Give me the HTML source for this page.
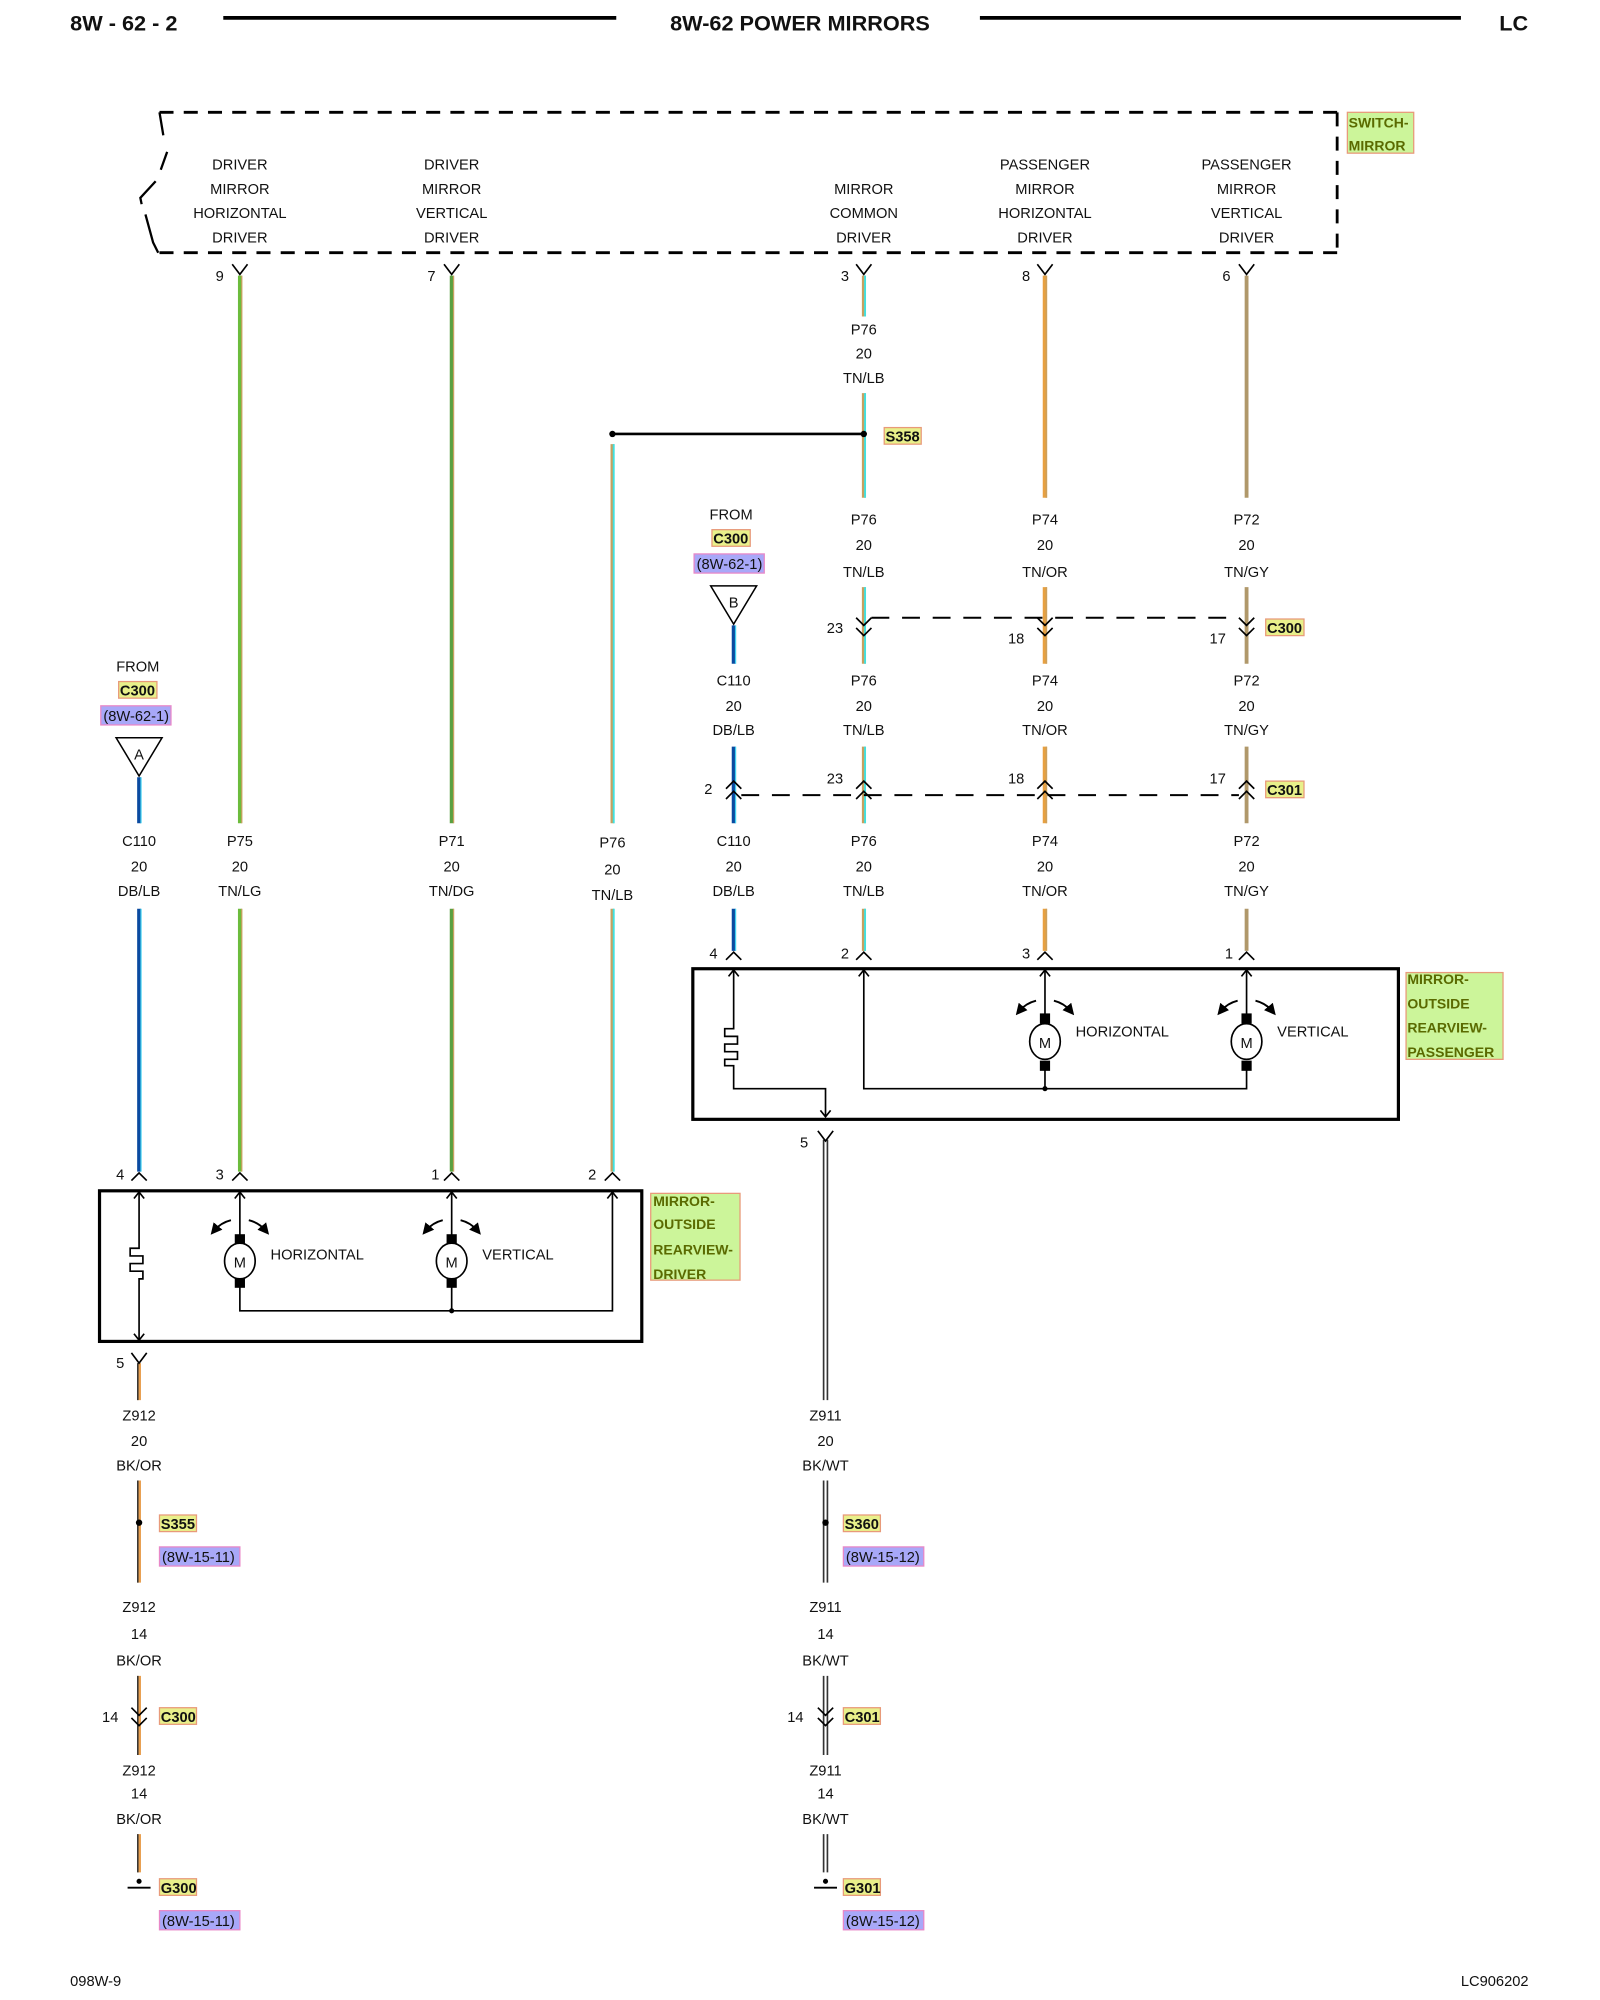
<!DOCTYPE html>
<html><head><meta charset="utf-8"><style>
html,body{margin:0;padding:0;background:#fff}
svg{display:block}
text{font-family:"Liberation Sans",sans-serif;font-size:11.5px;fill:#111}
.h{font-size:17px;font-weight:bold}
.c{text-anchor:middle}
.tg{font-weight:bold;font-size:11px;fill:#5a6a00}
.rf{font-size:11px;fill:#1a1a8a}
.ol{stroke:#000;stroke-width:1.3;fill:none}
</style></head><body>
<svg width="1600" height="2000" viewBox="0 0 1254 1567" preserveAspectRatio="none" xmlns="http://www.w3.org/2000/svg">
<defs>
<marker id="ah" markerWidth="6" markerHeight="6" refX="3" refY="3" orient="auto"><path d="M0,0 L6,3 L0,6 Z" fill="#000"/></marker>
</defs>
<!-- header -->
<text x="55" y="24" class="h">8W - 62 - 2</text>
<line x1="175" y1="14" x2="483" y2="14" stroke="#000" stroke-width="3"/>
<text x="627" y="24" class="h c">8W-62 POWER MIRRORS</text>
<line x1="768" y1="14" x2="1145" y2="14" stroke="#000" stroke-width="3"/>
<text x="1175" y="24" class="h">LC</text>

<!-- switch dashed box -->
<g stroke="#000" stroke-width="2.2" fill="none" stroke-dasharray="11 8">
<line x1="125" y1="88" x2="1048" y2="88"/>
<line x1="125" y1="198" x2="1048" y2="198"/>
<line x1="1048" y1="88" x2="1048" y2="198"/>
</g>
<path d="M125,88 L128,106 M131,119 L126,133 M122,142 L110,155 L111,160 M114,168 L120,190 L124,198" stroke="#000" stroke-width="1.8" fill="none"/>
<rect x="1056" y="88" width="52" height="32" fill="#ccf59a" stroke="#e89a7a"/>
<text x="1057" y="100" class="tg">SWITCH-</text><text x="1057" y="118" class="tg">MIRROR</text>

<g class="c">
<text x="188" y="133">DRIVER</text><text x="188" y="152">MIRROR</text><text x="188" y="171">HORIZONTAL</text><text x="188" y="190">DRIVER</text>
<text x="354" y="133">DRIVER</text><text x="354" y="152">MIRROR</text><text x="354" y="171">VERTICAL</text><text x="354" y="190">DRIVER</text>
<text x="677" y="152">MIRROR</text><text x="677" y="171">COMMON</text><text x="677" y="190">DRIVER</text>
<text x="819" y="133">PASSENGER</text><text x="819" y="152">MIRROR</text><text x="819" y="171">HORIZONTAL</text><text x="819" y="190">DRIVER</text>
<text x="977" y="133">PASSENGER</text><text x="977" y="152">MIRROR</text><text x="977" y="171">VERTICAL</text><text x="977" y="190">DRIVER</text>
</g>

<!-- wires -->
<g stroke-width="3" fill="none">
<path d="M188,216V645M188,712V918" stroke="#6cbc3c"/><path d="M189.5,216V645M189.5,712V918" stroke="#c8a060" stroke-width="1"/>
<path d="M354,216V645M354,712V918" stroke="#5aa040"/><path d="M355.5,216V645M355.5,712V918" stroke="#c8a060" stroke-width="1"/>
<path d="M677,216V248M677,308V390M677,460V520M677,585V645M677,712V745" stroke="#c8a060"/><path d="M678,216V248M678,308V390M678,460V520M678,585V645M678,712V745" stroke="#40e0e0" stroke-width="1.5"/>
<path d="M480,348V645M480,712V918" stroke="#c8a060"/><path d="M481,348V645M481,712V918" stroke="#40e0e0" stroke-width="1.5"/>
<path d="M819,216V390M819,460V520M819,585V645M819,712V745" stroke="#e8a040" stroke-width="3.5"/><path d="M820,216V390M820,460V520M820,585V645M820,712V745" stroke="#c8a060" stroke-width="1"/>
<path d="M977,216V390M977,460V520M977,585V645M977,712V745" stroke="#b0986a" stroke-width="3"/>
<path d="M575,490V520M575,585V645M575,712V745" stroke="#0a4aa0" stroke-width="3"/><path d="M576.5,490V520M576.5,585V645M576.5,712V745" stroke="#40d0f0" stroke-width="1"/>
<path d="M109,609V645M109,712V918" stroke="#0a4aa0" stroke-width="3"/><path d="M110.5,609V645M110.5,712V918" stroke="#40d0f0" stroke-width="1"/>
<path d="M109,1068V1097M109,1160V1240M109,1313V1375M109,1437V1467" stroke="#e8a050" stroke-width="3"/><path d="M108,1068V1097M108,1160V1240M108,1313V1375M108,1437V1467" stroke="#333" stroke-width="1.2"/>
<path d="M645.5,893V1097M645.5,1160V1240M645.5,1313V1375M645.5,1437V1467M648.5,893V1097M648.5,1160V1240M648.5,1313V1375M648.5,1437V1467" stroke="#333" stroke-width="1.3"/>
</g>

<g class="ol">
<path d="M182,207L188,215L194,207"/><path d="M348,207L354,215L360,207"/><path d="M671,207L677,215L683,207"/><path d="M813,207L819,215L825,207"/><path d="M971,207L977,215L983,207"/>
<path d="M671,484L677,490L683,484M671,492L677,498L683,492"/>
<path d="M813,484L819,490L825,484M813,492L819,498L825,492"/>
<path d="M971,484L977,490L983,484M971,492L977,498L983,492"/>
<path d="M569,618L575,612L581,618M569,626L575,620L581,626"/>
<path d="M671,618L677,612L683,618M671,626L677,620L683,626"/>
<path d="M813,618L819,612L825,618M813,626L819,620L825,626"/>
<path d="M971,618L977,612L983,618M971,626L977,620L983,626"/>
<path d="M569,752L575,746L581,752"/><path d="M671,752L677,746L683,752"/><path d="M813,752L819,746L825,752"/><path d="M971,752L977,746L983,752"/>
<path d="M103,925L109,919L115,925"/><path d="M182,925L188,919L194,925"/><path d="M348,925L354,919L360,925"/><path d="M474,925L480,919L486,925"/>
<path d="M103,1060L109,1068L115,1060"/><path d="M641,886L647,894L653,886"/>
<path d="M103,1338L109,1344L115,1338M103,1346L109,1352L115,1346"/>
<path d="M641,1338L647,1344L653,1338M641,1346L647,1352L653,1346"/>
</g>
<g stroke="#000" stroke-width="1.6" fill="none" stroke-dasharray="14 10">
<line x1="683" y1="484" x2="971" y2="484"/>
<line x1="581" y1="623" x2="971" y2="623"/>
</g>
<line x1="480" y1="340" x2="677" y2="340" stroke="#000" stroke-width="2"/>
<circle cx="480" cy="340" r="2.5"/><circle cx="677" cy="340" r="2.5"/>
<circle cx="109" cy="1193" r="2.5"/><circle cx="647" cy="1193" r="2.5"/>

<g>
<text x="169" y="220">9</text><text x="335" y="220">7</text><text x="659" y="220">3</text><text x="801" y="220">8</text><text x="958" y="220">6</text>
<text x="648" y="496">23</text><text x="790" y="504">18</text><text x="948" y="504">17</text>
<text x="552" y="622">2</text><text x="648" y="614">23</text><text x="790" y="614">18</text><text x="948" y="614">17</text>
<text x="556" y="751">4</text><text x="659" y="751">2</text><text x="801" y="751">3</text><text x="960" y="751">1</text>
<text x="91" y="924">4</text><text x="169" y="924">3</text><text x="338" y="924">1</text><text x="461" y="924">2</text>
<text x="91" y="1072">5</text><text x="627" y="899">5</text>
<text x="80" y="1349">14</text><text x="617" y="1349">14</text>
</g>

<g class="c">
<text x="677" y="262">P76</text><text x="677" y="281">20</text><text x="677" y="300">TN/LB</text>
<text x="677" y="411">P76</text><text x="677" y="431">20</text><text x="677" y="452">TN/LB</text>
<text x="819" y="411">P74</text><text x="819" y="431">20</text><text x="819" y="452">TN/OR</text>
<text x="977" y="411">P72</text><text x="977" y="431">20</text><text x="977" y="452">TN/GY</text>
<text x="573" y="407">FROM</text>
<text x="575" y="537">C110</text><text x="575" y="557">20</text><text x="575" y="576">DB/LB</text>
<text x="677" y="537">P76</text><text x="677" y="557">20</text><text x="677" y="576">TN/LB</text>
<text x="819" y="537">P74</text><text x="819" y="557">20</text><text x="819" y="576">TN/OR</text>
<text x="977" y="537">P72</text><text x="977" y="557">20</text><text x="977" y="576">TN/GY</text>
<text x="108" y="526">FROM</text>
<text x="109" y="663">C110</text><text x="109" y="683">20</text><text x="109" y="702">DB/LB</text>
<text x="188" y="663">P75</text><text x="188" y="683">20</text><text x="188" y="702">TN/LG</text>
<text x="354" y="663">P71</text><text x="354" y="683">20</text><text x="354" y="702">TN/DG</text>
<text x="480" y="664">P76</text><text x="480" y="685">20</text><text x="480" y="705">TN/LB</text>
<text x="575" y="663">C110</text><text x="575" y="683">20</text><text x="575" y="702">DB/LB</text>
<text x="677" y="663">P76</text><text x="677" y="683">20</text><text x="677" y="702">TN/LB</text>
<text x="819" y="663">P74</text><text x="819" y="683">20</text><text x="819" y="702">TN/OR</text>
<text x="977" y="663">P72</text><text x="977" y="683">20</text><text x="977" y="702">TN/GY</text>
<text x="109" y="1113">Z912</text><text x="109" y="1133">20</text><text x="109" y="1152">BK/OR</text>
<text x="109" y="1263">Z912</text><text x="109" y="1284">14</text><text x="109" y="1305">BK/OR</text>
<text x="109" y="1391">Z912</text><text x="109" y="1409">14</text><text x="109" y="1429">BK/OR</text>
<text x="647" y="1113">Z911</text><text x="647" y="1133">20</text><text x="647" y="1152">BK/WT</text>
<text x="647" y="1263">Z911</text><text x="647" y="1284">14</text><text x="647" y="1305">BK/WT</text>
<text x="647" y="1391">Z911</text><text x="647" y="1409">14</text><text x="647" y="1429">BK/WT</text>
</g>

<path d="M557,459H593L575,489Z" fill="#fff" stroke="#000" stroke-width="1.2"/><text x="575" y="476" class="c">B</text>
<path d="M91,578H127L109,608Z" fill="#fff" stroke="#000" stroke-width="1.2"/><text x="109" y="595" class="c">A</text>

<g fill="#e8f08a" stroke="#e89a7a">
<rect x="693" y="335" width="29" height="13"/>
<rect x="558" y="415" width="30" height="13"/>
<rect x="93" y="534" width="30" height="13"/>
<rect x="992" y="485" width="30" height="13"/>
<rect x="992" y="612" width="30" height="13"/>
<rect x="125" y="1187" width="29" height="13"/>
<rect x="661" y="1187" width="29" height="13"/>
<rect x="125" y="1338" width="29" height="13"/>
<rect x="661" y="1338" width="29" height="13"/>
<rect x="125" y="1472" width="29" height="13"/>
<rect x="661" y="1472" width="29" height="13"/>
</g>
<g fill="#a8a8f8" stroke="#e888c8">
<rect x="544" y="434" width="55" height="15"/>
<rect x="79" y="553" width="55" height="15"/>
<rect x="125" y="1212" width="63" height="15"/>
<rect x="661" y="1212" width="63" height="15"/>
<rect x="125" y="1497" width="63" height="15"/>
<rect x="661" y="1497" width="63" height="15"/>
</g>
<g class="tg">
<text x="694" y="346">S358</text><text x="559" y="426">C300</text><text x="94" y="545">C300</text>
<text x="993" y="496">C300</text><text x="993" y="623">C301</text>
<text x="126" y="1198">S355</text><text x="662" y="1198">S360</text>
<text x="126" y="1349">C300</text><text x="662" y="1349">C301</text>
<text x="126" y="1483">G300</text><text x="662" y="1483">G301</text>
</g>
<g class="rf">
<text x="546" y="446">(8W-62-1)</text><text x="81" y="565">(8W-62-1)</text>
<text x="127" y="1224">(8W-15-11)</text><text x="663" y="1224">(8W-15-12)</text>
<text x="127" y="1509">(8W-15-11)</text><text x="663" y="1509">(8W-15-12)</text>
</g>

<g stroke="#000" stroke-width="1.5"><line x1="100" y1="1479" x2="118" y2="1479"/><line x1="638" y1="1479" x2="656" y2="1479"/></g>
<circle cx="109" cy="1474" r="2"/><circle cx="647" cy="1474" r="2"/>

<rect x="543" y="759" width="553" height="118" fill="none" stroke="#000" stroke-width="2.5"/>
<g class="ol" stroke-width="1">
<path d="M575,760V806H568V812H578V818H568V824H578V830H568V835H575V853H647V875"/>
<path d="M571,765L575,760L579,765M643,870L647,875L651,870"/>
<path d="M677,760V853H977V838M819,853V838M819,795V760M977,795V760"/>
<path d="M673,765L677,760L681,765M815,765L819,760L823,765M973,765L977,760L981,765"/>
<path d="M812,784Q804,786 799,792" marker-end="url(#ah)" stroke-width="1.5"/>
<path d="M826,784Q834,786 839,792" marker-end="url(#ah)" stroke-width="1.5"/>
<path d="M970,784Q962,786 957,792" marker-end="url(#ah)" stroke-width="1.5"/>
<path d="M984,784Q992,786 997,792" marker-end="url(#ah)" stroke-width="1.5"/>
</g>
<circle cx="819" cy="853" r="2"/>
<rect x="815" y="794" width="8" height="8"/><rect x="815" y="831" width="8" height="8"/>
<ellipse cx="819" cy="816" rx="12" ry="14" fill="#fff" stroke="#000" stroke-width="1.3"/><text x="819" y="821" class="c">M</text>
<rect x="973" y="794" width="8" height="8"/><rect x="973" y="831" width="8" height="8"/>
<ellipse cx="977" cy="816" rx="12" ry="14" fill="#fff" stroke="#000" stroke-width="1.3"/><text x="977" y="821" class="c">M</text>
<text x="843" y="812">HORIZONTAL</text><text x="1001" y="812">VERTICAL</text>
<rect x="1102" y="762" width="76" height="68" fill="#ccf59a" stroke="#e89a7a"/>
<text x="1103" y="771" class="tg">MIRROR-</text><text x="1103" y="790" class="tg">OUTSIDE</text><text x="1103" y="809" class="tg">REARVIEW-</text><text x="1103" y="828" class="tg">PASSENGER</text>

<rect x="78" y="933" width="425" height="118" fill="none" stroke="#000" stroke-width="2.5"/>
<g class="ol" stroke-width="1">
<path d="M109,934V978H102V984H112V990H102V996H112V1002H109V1050"/>
<path d="M105,939L109,934L113,939M105,1045L109,1050L113,1045"/>
<path d="M188,934V968M188,1008V1027H480V934M354,934V968M354,1008V1027"/>
<path d="M184,939L188,934L192,939M350,939L354,934L358,939M476,939L480,934L484,939"/>
<path d="M181,956Q173,958 168,964" marker-end="url(#ah)" stroke-width="1.5"/>
<path d="M195,956Q203,958 208,964" marker-end="url(#ah)" stroke-width="1.5"/>
<path d="M347,956Q339,958 334,964" marker-end="url(#ah)" stroke-width="1.5"/>
<path d="M361,956Q369,958 374,964" marker-end="url(#ah)" stroke-width="1.5"/>
</g>
<circle cx="354" cy="1027" r="2"/>
<rect x="184" y="967" width="8" height="8"/><rect x="184" y="1001" width="8" height="8"/>
<ellipse cx="188" cy="988" rx="12" ry="14" fill="#fff" stroke="#000" stroke-width="1.3"/><text x="188" y="993" class="c">M</text>
<rect x="350" y="967" width="8" height="8"/><rect x="350" y="1001" width="8" height="8"/>
<ellipse cx="354" cy="988" rx="12" ry="14" fill="#fff" stroke="#000" stroke-width="1.3"/><text x="354" y="993" class="c">M</text>
<text x="212" y="987">HORIZONTAL</text><text x="378" y="987">VERTICAL</text>
<rect x="510" y="935" width="70" height="68" fill="#ccf59a" stroke="#e89a7a"/>
<text x="512" y="945" class="tg">MIRROR-</text><text x="512" y="963" class="tg">OUTSIDE</text><text x="512" y="983" class="tg">REARVIEW-</text><text x="512" y="1002" class="tg">DRIVER</text>

<text x="55" y="1556">098W-9</text>
<text x="1198" y="1556" style="text-anchor:end">LC906202</text>
</svg>
</body></html>
